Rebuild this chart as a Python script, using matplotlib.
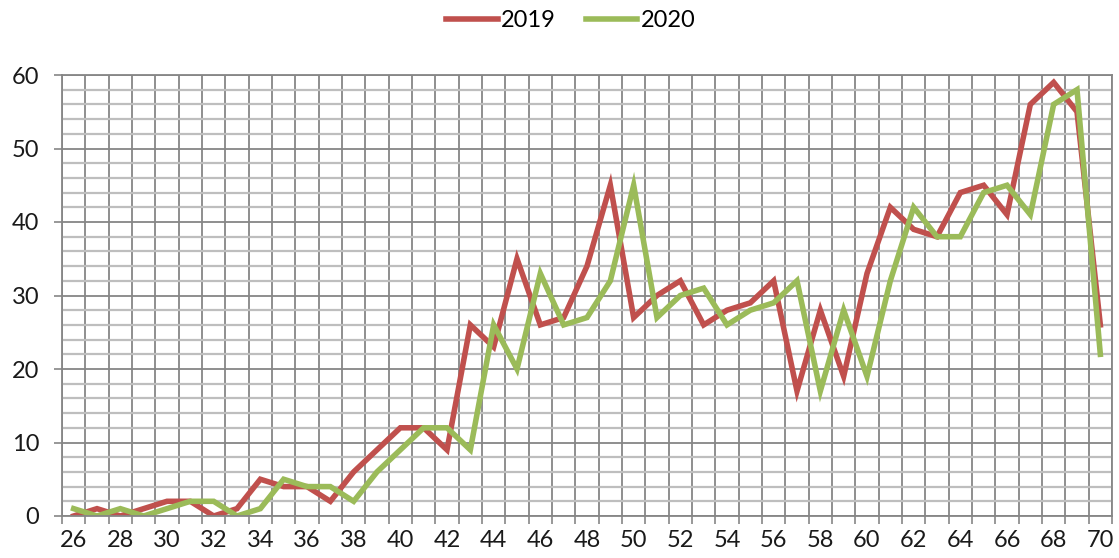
import numpy as np
import matplotlib
matplotlib.use("Agg")
import matplotlib.pyplot as plt

ages = list(range(26, 71))
y2019 = [0, 1, 0, 1, 2, 2, 0, 1, 5, 4, 4, 2, 6, 9, 12, 12, 9, 26, 23, 35, 26, 27, 34, 45,
         27, 30, 32, 26, 28, 29, 32, 17, 28, 19, 33, 42, 39, 38, 44, 45, 41, 56, 59, 55, 26]
y2020 = [1, 0, 1, 0, 1, 2, 2, 0, 1, 5, 4, 4, 2, 6, 9, 12, 12, 9, 26, 20, 33, 26, 27, 32,
         45, 27, 30, 31, 26, 28, 29, 32, 17, 28, 19, 32, 42, 38, 38, 44, 45, 41, 56, 58, 22]

plt.rcParams["font.family"] = ["Lato", "DejaVu Sans"]

fig = plt.figure(figsize=(11.19, 5.58), dpi=100)
ax = fig.add_axes([62 / 1119, 42 / 558, (1112 - 62) / 1119, (516 - 75) / 558])

x = np.arange(len(ages))
ax.plot(x, y2019, color="#C0504D", lw=4.0, label="2019", solid_joinstyle="miter")
ax.plot(x, y2020, color="#9BBB59", lw=4.0, label="2020", solid_joinstyle="miter")

ax.set_xlim(-0.5, len(ages) - 0.5)
ax.set_ylim(0, 60)

# category boundaries -> gridlines and tick marks
ax.set_xticks(np.arange(-0.5, len(ages), 1.0))
ax.set_xticklabels([])
ax.tick_params(axis="x", which="major", direction="out", length=5.5, width=1.2, color="#868686")
ax.set_xticks(x[::2], minor=True)
ax.set_xticklabels([str(a) for a in ages[::2]], minor=True)
ax.tick_params(axis="x", which="minor", length=0, labelsize=17, pad=10, labelcolor="#1a1a1a")

ax.set_yticks(range(0, 61, 10))
ax.set_yticks(range(0, 61, 2), minor=True)
ax.tick_params(axis="y", which="major", direction="out", length=5.5, width=1.2, color="#868686",
               labelsize=17, labelcolor="#1a1a1a", pad=11)
ax.tick_params(axis="y", which="minor", length=0)

ax.grid(True, axis="x", which="major", color="#868686", lw=1.3)
ax.grid(True, axis="y", which="major", color="#868686", lw=1.3)
ax.grid(True, axis="y", which="minor", color="#BEBEBE", lw=1.6)
ax.set_axisbelow(True)

for s in ax.spines.values():
    s.set_color("#868686")
    s.set_linewidth(1.3)

fig.legend(loc="upper center", bbox_to_anchor=(0.51, 1.02), ncol=2, frameon=False,
           fontsize=17, handlelength=2.2, handletextpad=0.15, columnspacing=1.25)

fig.savefig("out.png", dpi=100)
